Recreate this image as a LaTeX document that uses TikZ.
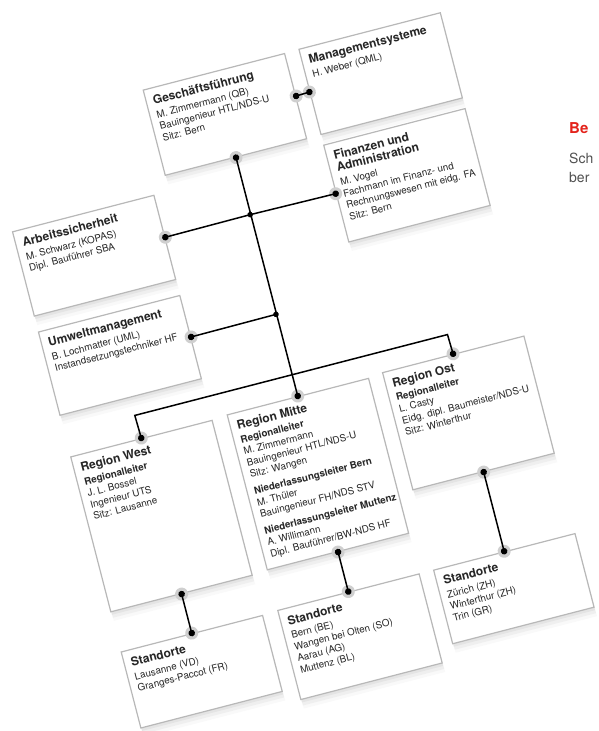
\documentclass[tikz,border=0pt]{standalone}
\usepackage{fontspec}
\setmainfont{TeX Gyre Heros}
\usepackage{xcolor}
\usepackage{tikz}
\usetikzlibrary{shadows}

\definecolor{boxgray}{HTML}{B8B8B8}
\definecolor{halogray}{HTML}{CFCFCF}
\definecolor{textgray}{HTML}{262626}
\definecolor{accentred}{HTML}{E3231B}
\definecolor{copygray}{HTML}{505050}

\newcommand{\titlefont}{\fontsize{12}{14}\selectfont\bfseries}
\newcommand{\boxtitle}[1]{{\titlefont #1}\\[2pt]}
\newcommand{\orgcontent}[2]{\parbox[t][#1][t]{132pt}{\fontsize{9.8}{12}\selectfont\begin{tabular}[t]{@{}l@{}}#2\end{tabular}}}

\begin{document}
\begin{tikzpicture}[x=1pt, y=1pt,
    orgbox/.style={draw=boxgray, line width=1.2pt, fill=white, anchor=north west, inner xsep=7pt, inner ysep=8pt, text=textgray,
      drop shadow={shadow xshift=1pt, shadow yshift=-3pt, opacity=0.10},
      drop shadow={shadow xshift=2pt, shadow yshift=-6pt, opacity=0.08},
      drop shadow={shadow xshift=3pt, shadow yshift=-9pt, opacity=0.05}},
    link/.style={line width=1.5pt, black}]
  \useasboundingbox (0,0) rectangle (598,-731);

  \begin{scope}[rotate=14.5, transform shape]
    % Leitung und Stabsstellen
    \node[orgbox] (gf) at (115.5,-122.5) {\orgcontent{72pt}{\boxtitle{Geschäftsführung} M. Zimmermann (QB)\\ Bauingenieur HTL/NDS-U\\ Sitz: Bern}};
    \node[orgbox] (ms) at (276.5,-122) {\orgcontent{72pt}{\boxtitle{Managementsysteme} H. Weber (QML)}};
    \node[orgbox] (fa) at (276.5,-221) {\orgcontent{84pt}{{\titlefont Finanzen und}\\ \boxtitle{Administration} M. Vogel\\ Fachmann im Finanz- und\\ Rechnungswesen mit eidg. FA\\ Sitz: Bern}};
    \node[orgbox] (as) at (-46.5,-227) {\orgcontent{71pt}{\boxtitle{Arbeitssicherheit} M. Schwarz (KOPAS)\\ Dipl. Bauführer SBA}};
    \node[orgbox] (um) at (-46.5,-330.5) {\orgcontent{70pt}{\boxtitle{Umweltmanagement} B. Lochmatter (UML)\\ Instandsetzungstechniker HF}};

    % Regionen
    \node[orgbox] (rw) at (-46.5,-459.5) {\orgcontent{144pt}{\boxtitle{Region West} \textbf{Regionalleiter}\\ J. L. Bossel\\ Ingenieur UTS\\ Sitz: Lausanne}};
    \node[orgbox] (rm) at (115.5,-458) {\orgcontent{144pt}{\boxtitle{Region Mitte} \textbf{Regionalleiter}\\ M. Zimmermann\\ Bauingenieur HTL/NDS-U\\ Sitz: Wangen\\[5pt] \textbf{Niederlassungsleiter Bern}\\ M. Thüler\\ Bauingenieur FH/NDS STV\\[5pt] \textbf{Niederlassungsleiter Muttenz}\\ A. Willimann\\ Dipl. Bauführer/BW-NDS HF}};
    \node[orgbox] (ro) at (276.5,-456) {\orgcontent{105pt}{\boxtitle{Region Ost} \textbf{Regionalleiter}\\ L. Casty\\ Eidg. dipl. Baumeister/NDS-U\\ Sitz: Winterthur}};

    % Standorte
    \node[orgbox] (sw) at (-46.5,-661) {\orgcontent{62.5pt}{\boxtitle{Standorte} Lausanne (VD)\\ Granges-Paccot (FR)}};
    \node[orgbox] (sm) at (115.5,-660) {\orgcontent{76pt}{\boxtitle{Standorte} Bern (BE)\\ Wangen bei Olten (SO)\\ Aarau (AG)\\ Muttenz (BL)}};
    \node[orgbox] (so) at (276.5,-660) {\orgcontent{60pt}{\boxtitle{Standorte} Zürich (ZH)\\ Winterthur (ZH)\\ Trin (GR)}};

    % Knickpunkte der Linien
    \coordinate (jas) at (188.5,-270.5);
    \coordinate (jum) at (188.5,-373.5);
    \coordinate (jrw) at (26.5,-436);
    \coordinate (jro) at (349.5,-436);

    % graue Kerben an den Boxen
    \foreach \p in {gf.south, gf.east, ms.west, fa.west, as.east, um.east, rw.north, rm.north, ro.north,
                    rw.south, rm.south, ro.south, sw.north, sm.north, so.north}
      \fill[halogray] (\p) circle (6.5);

    % Verbindungen
    \draw[link] (gf.east) -- (ms.west);
    \draw[link] (gf.south) -- (rm.north);
    \draw[link] (as.east) -- (jas) -- (fa.west);
    \draw[link] (um.east) -- (jum);
    \draw[link] (rw.north) -- (jrw) -- (jro) -- (ro.north);
    \draw[link] (rw.south) -- (sw.north);
    \draw[link] (rm.south) -- (sm.north);
    \draw[link] (ro.south) -- (so.north);

    % Punkte
    \foreach \p in {gf.south, gf.east, ms.west, fa.west, as.east, um.east, rw.north, rm.north, ro.north,
                    rw.south, rm.south, ro.south, sw.north, sm.north, so.north}
      \fill (\p) circle (3.3);
    \foreach \j in {jas, jum}
      \fill (\j) circle (2.8);
  \end{scope}

  % angeschnittene Nachbarspalte
  \node[anchor=base west, font=\fontsize{15}{17}\selectfont\bfseries, text=accentred, inner sep=0pt] (colhead) at (569,-133) {Be};
  \node[anchor=base west, font=\fontsize{14}{17}\selectfont, text=copygray, inner sep=0pt] (colline1) at (569,-163) {Sch};
  \node[anchor=base west, font=\fontsize{14}{17}\selectfont, text=copygray, inner sep=0pt] (colline2) at (569,-182) {ber};
\end{tikzpicture}
\end{document}
